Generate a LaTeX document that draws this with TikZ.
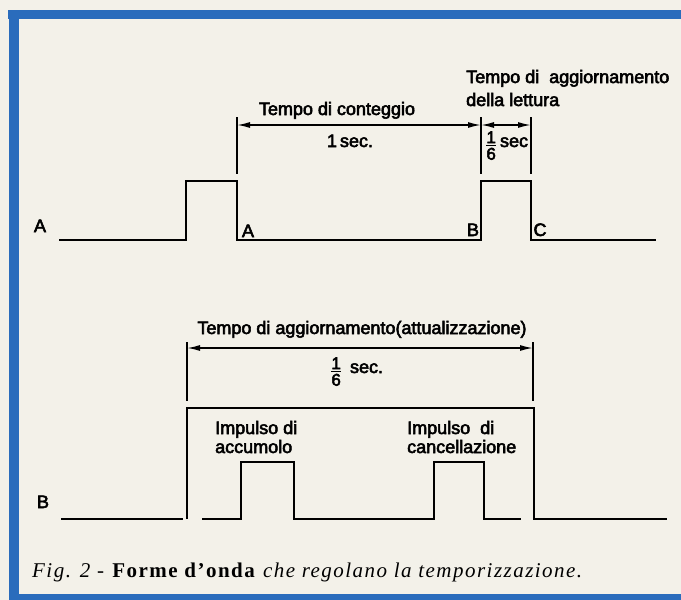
\documentclass[tikz,border=0pt]{standalone}
\usepackage{amsmath}
\usepackage{fontspec}
\usetikzlibrary{arrows.meta}
\newfontfamily\lblfont[FakeBold=3]{Liberation Sans}
\newfontfamily\capfont[LetterSpace=7]{Liberation Serif}
\definecolor{frameblue}{RGB}{42,108,188}
\definecolor{paper}{RGB}{243,241,233}
% one sixth, digits stacked over a heavy bar
\newcommand{\onesixth}{\raisebox{-3pt}{$\genfrac{}{}{1.4pt}{1}{\mbox{\fontsize{17}{17}\selectfont 1}}{\mbox{\fontsize{17}{17}\selectfont 6}}$}}

\begin{document}
\begin{tikzpicture}[x=1pt,y=-1pt,
    wave/.style={line width=2.8pt, line join=miter},
    guide/.style={line width=1.4pt},
    dim/.style={line width=1.6pt, {Latex[length=13pt,width=6pt]}-{Latex[length=13pt,width=6pt]}},
    lbl/.style={font=\lblfont\fontsize{18}{19}\selectfont, inner sep=0pt}]
    % Page and frame
    \useasboundingbox (0,0) rectangle (681,600);
    \fill[paper] (0,0) rectangle (681,600);
    \fill[frameblue] (8,10) rectangle (681,19);
    \fill[frameblue] (9,10) rectangle (19,600);
    \fill[frameblue] (19,594) rectangle (681,600);

    % Waveform A
    \draw[wave] (59,240) -- (186,240) -- (186,181) -- (237,181) -- (237,240)
        -- (481,240) -- (481,181) -- (531,181) -- (531,240) -- (656,240);
    \node[lbl, anchor=base] (labA) at (40,232) {A};
    \node[lbl, anchor=base] (labA2) at (248,237) {A};
    \node[lbl, anchor=base] (labB) at (473,236) {B};
    \node[lbl, anchor=base] (labC) at (540,236) {C};

    % Guide lines and time spans of A
    \foreach \gx/\gname in {237/gA, 481/gB, 531/gC} {
        \coordinate (\gname top) at (\gx,117);
        \coordinate (\gname bot) at (\gx,174);
        \coordinate (\gname) at (\gx,125);
        \draw[guide] (\gname top) -- (\gname bot);
    }
    \draw[dim] (gA) -- (gB);
    \draw[dim] (gB) -- (gC);
    \node[lbl, anchor=base] (count) at (337,115) {Tempo di conteggio};
    \node[lbl, anchor=base] (onesec) at (350,147) {1\,sec.};
    \node[lbl, anchor=base west] (sixthA) at (485,147) {\onesixth\,sec};
    \node[lbl, anchor=base west, align=left] (update) at (466,106)
        {Tempo di\ \ aggiornamento\\[4pt]della lettura};

    % Waveform B
    \draw[wave] (61,519) -- (183,519);
    \draw[wave] (187,519) -- (187,408) -- (534,408) -- (534,519) -- (667,519);
    \draw[wave] (202,519) -- (241,519) -- (241,462) -- (294,462) -- (294,519)
        -- (434,519) -- (434,462) -- (484,462) -- (484,519) -- (521,519);
    \node[lbl, anchor=base] (labBB) at (43,508) {B};

    % Guide lines and time span of B
    \foreach \gx/\gname in {187/hA, 533/hB} {
        \coordinate (\gname top) at (\gx,342);
        \coordinate (\gname bot) at (\gx,401);
        \coordinate (\gname) at (\gx,348);
        \draw[guide] (\gname top) -- (\gname bot);
    }
    \draw[dim] (hA) -- (hB);
    \node[lbl, anchor=base] (refresh) at (362,334) {Tempo di aggiornamento(attualizzazione)};
    \node[lbl, anchor=base west] (sixthB) at (330,373) {\onesixth\hspace{8pt}sec.};
    \node[lbl, anchor=base west, align=left] (store) at (215,453) {Impulso di\\accumolo};
    \node[lbl, anchor=base west, align=left] (erase) at (407,453) {Impulso\ \ di\\cancellazione};

    % Caption
    \node[anchor=base west, inner sep=0pt, font=\capfont\fontsize{21}{24}\selectfont] (caption) at (32,577)
        {\textit{Fig. 2 -} \textbf{Forme d’onda} \textit{che regolano la temporizzazione.}};
\end{tikzpicture}
\end{document}
